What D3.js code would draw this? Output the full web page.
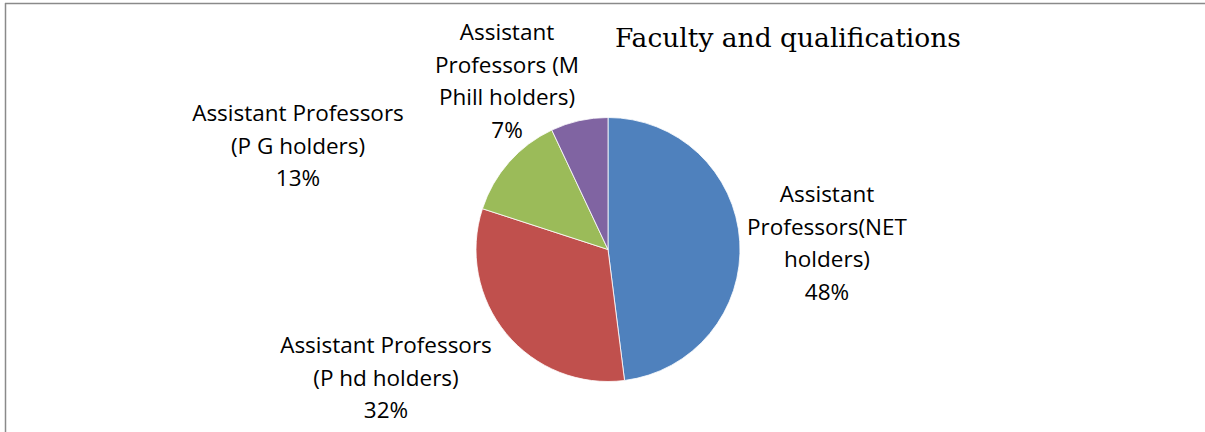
<!DOCTYPE html>
<html>
<head>
<meta charset="utf-8">
<script src="https://cdn.jsdelivr.net/npm/d3@7"></script>
<style>
  body { margin: 0; background: #fff; }
  .lbl { font-family: "Open Sans", "Noto Sans", sans-serif; font-size: 22.5px; fill: #000; }
  .title { font-family: "DejaVu Serif", serif; font-size: 26.5px; fill: #000; }
</style>
</head>
<body>
<div id="chart"></div>
<script>
// Chart data
var categories = [
    "Assistant Professors(NET holders)",
    "Assistant Professors (P hd holders)",
    "Assistant Professors (P G holders)",
    "Assistant Professors (M Phill holders)"
];
var values = [48, 32, 13, 7];
var colors = ["#4F81BD", "#C0504D", "#9BBB59", "#8064A2"];
// label text lines, as wrapped in the original
var labelLines = [
    ["Assistant", "Professors(NET", "holders)", "48%"],
    ["Assistant Professors", "(P hd holders)", "32%"],
    ["Assistant Professors", "(P G holders)", "13%"],
    ["Assistant", "Professors (M", "Phill holders)", "7%"]
];
var title = "Faculty and qualifications";

var svgWidth = 1205;
var svgHeight = 432;

var svg = d3.select("#chart")
    .append("svg")
    .attr("width", svgWidth)
    .attr("height", svgHeight);

// frame lines (top and left only visible)
svg.append("line")
    .attr("x1", 5).attr("x2", svgWidth)
    .attr("y1", 3.5).attr("y2", 3.5)
    .attr("stroke", "#8a8a8a").attr("stroke-width", 1.5);
svg.append("line")
    .attr("x1", 5.5).attr("x2", 5.5)
    .attr("y1", 3).attr("y2", svgHeight)
    .attr("stroke", "#8a8a8a").attr("stroke-width", 1.5);

// pie
var cx = 608, cy = 249.5, radius = 132;

var pie = d3.pie().sort(null).value(d => d);
var arc = d3.arc().innerRadius(0).outerRadius(radius);
var arcs = pie(values);

var pieGroup = svg.append("g")
    .attr("transform", `translate(${cx}, ${cy})`);

pieGroup.selectAll("path")
    .data(arcs)
    .enter()
    .append("path")
    .attr("d", arc)
    .attr("fill", (d, i) => colors[i])
    .attr("stroke", "#fff")
    .attr("stroke-width", 0.8);

// label anchor points (centre x, first baseline) outside the pie
var labelPos = [
    [827, 202],
    [386, 353],
    [298, 121],
    [507, 40]
];
var lineGap = 32.5;

svg.selectAll("text.lbl")
    .data(arcs)
    .enter()
    .append("text")
    .attr("class", "lbl")
    .attr("text-anchor", "middle")
    .each(function(d, i) {
        var t = d3.select(this);
        labelLines[i].forEach((line, j) => {
            t.append("tspan")
                .attr("x", labelPos[i][0])
                .attr("y", labelPos[i][1] + j * lineGap)
                .text(line);
        });
    });

// title
svg.append("text")
    .attr("class", "title")
    .attr("x", 615)
    .attr("y", 47)
    .text(title);
</script>
</body>
</html>
